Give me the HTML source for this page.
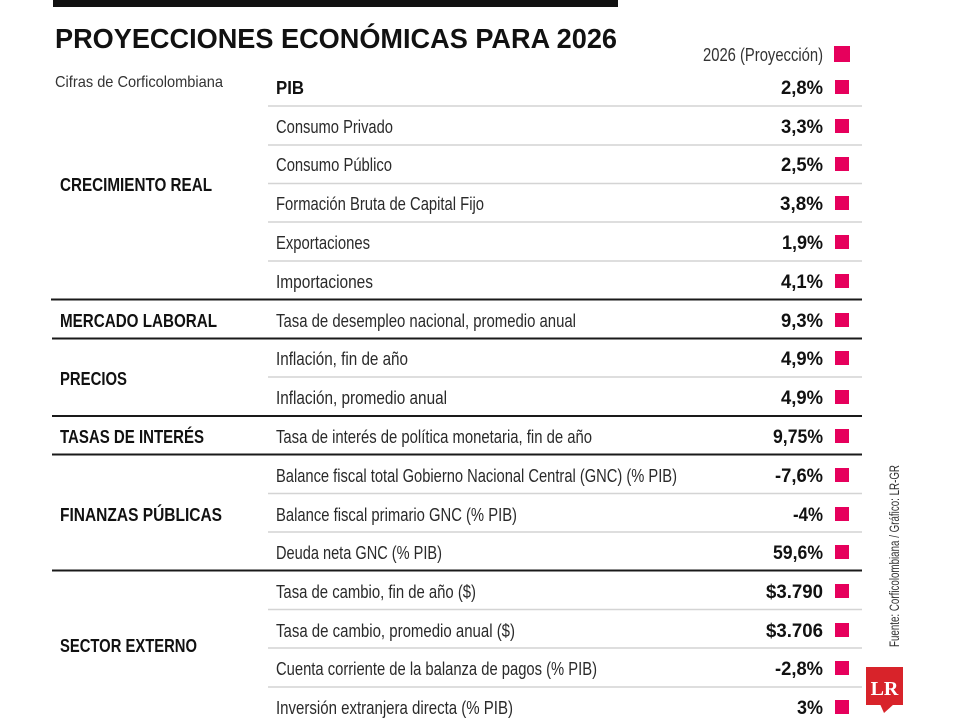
<!DOCTYPE html>
<html><head><meta charset="utf-8"><style>
html,body{margin:0;padding:0;background:#fff;}
svg{display:block;}
text{font-family:"Liberation Sans",sans-serif;}
.t{font-size:18px;fill:#2a2a2a;}
.c{font-size:18px;font-weight:bold;fill:#111;}
.v{font-size:19px;font-weight:bold;fill:#111;}
.lt{stroke:#d4d4d4;stroke-width:1.6;}
.dk{stroke:#1a1a1a;stroke-width:2;}
.sq{fill:#e6005c;}
</style></head><body>
<svg width="960" height="720" viewBox="0 0 960 720" xmlns="http://www.w3.org/2000/svg">
<rect x="0" y="0" width="960" height="720" fill="#fff"/>
<rect x="53" y="0" width="565" height="7" fill="#111"/>
<text x="55" y="48" font-size="28" font-weight="bold" fill="#111" textLength="562" lengthAdjust="spacingAndGlyphs">PROYECCIONES ECONÓMICAS PARA 2026</text>
<text x="55" y="87" font-size="16" fill="#333" textLength="168" lengthAdjust="spacingAndGlyphs">Cifras de Corficolombiana</text>
<text x="703" y="61" font-size="18" fill="#333" textLength="120" lengthAdjust="spacingAndGlyphs">2026 (Proyección)</text>
<rect class="sq" x="834" y="46" width="16" height="16"/>

<!-- lines -->
<line class="lt" x1="268" y1="106" x2="862" y2="106"/>
<line class="lt" x1="268" y1="145" x2="862" y2="145"/>
<line class="lt" x1="268" y1="183.5" x2="862" y2="183.5"/>
<line class="lt" x1="268" y1="222" x2="862" y2="222"/>
<line class="lt" x1="268" y1="261" x2="862" y2="261"/>
<line class="dk" x1="51" y1="299.5" x2="862" y2="299.5"/>
<line class="dk" x1="52" y1="338.5" x2="862" y2="338.5"/>
<line class="lt" x1="268" y1="377" x2="862" y2="377"/>
<line class="dk" x1="52" y1="416" x2="862" y2="416"/>
<line class="dk" x1="52" y1="454.5" x2="862" y2="454.5"/>
<line class="lt" x1="268" y1="493.5" x2="862" y2="493.5"/>
<line class="lt" x1="268" y1="532" x2="862" y2="532"/>
<line class="dk" x1="52" y1="570.5" x2="862" y2="570.5"/>
<line class="lt" x1="268" y1="609.5" x2="862" y2="609.5"/>
<line class="lt" x1="268" y1="648" x2="862" y2="648"/>
<line class="lt" x1="268" y1="687" x2="862" y2="687"/>

<!-- categories -->
<text class="c" x="60" y="191" textLength="152" lengthAdjust="spacingAndGlyphs">CRECIMIENTO REAL</text>
<text class="c" x="60" y="327" textLength="157" lengthAdjust="spacingAndGlyphs">MERCADO LABORAL</text>
<text class="c" x="60" y="385" textLength="67" lengthAdjust="spacingAndGlyphs">PRECIOS</text>
<text class="c" x="60" y="443" textLength="144" lengthAdjust="spacingAndGlyphs">TASAS DE INTERÉS</text>
<text class="c" x="60" y="521" textLength="162" lengthAdjust="spacingAndGlyphs">FINANZAS PÚBLICAS</text>
<text class="c" x="60" y="652" textLength="137" lengthAdjust="spacingAndGlyphs">SECTOR EXTERNO</text>

<!-- labels -->
<text class="c" x="276" y="94" textLength="28" lengthAdjust="spacingAndGlyphs">PIB</text>
<text class="t" x="276" y="133" textLength="117" lengthAdjust="spacingAndGlyphs">Consumo Privado</text>
<text class="t" x="276" y="171" textLength="116" lengthAdjust="spacingAndGlyphs">Consumo Público</text>
<text class="t" x="276" y="210" textLength="208" lengthAdjust="spacingAndGlyphs">Formación Bruta de Capital Fijo</text>
<text class="t" x="276" y="249" textLength="94" lengthAdjust="spacingAndGlyphs">Exportaciones</text>
<text class="t" x="276" y="288" textLength="97" lengthAdjust="spacingAndGlyphs">Importaciones</text>
<text class="t" x="276" y="327" textLength="300" lengthAdjust="spacingAndGlyphs">Tasa de desempleo nacional, promedio anual</text>
<text class="t" x="276" y="365" textLength="132" lengthAdjust="spacingAndGlyphs">Inflación, fin de año</text>
<text class="t" x="276" y="404" textLength="171" lengthAdjust="spacingAndGlyphs">Inflación, promedio anual</text>
<text class="t" x="276" y="443" textLength="316" lengthAdjust="spacingAndGlyphs">Tasa de interés de política monetaria, fin de año</text>
<text class="t" x="276" y="482" textLength="401" lengthAdjust="spacingAndGlyphs">Balance fiscal total Gobierno Nacional Central (GNC) (% PIB)</text>
<text class="t" x="276" y="521" textLength="241" lengthAdjust="spacingAndGlyphs">Balance fiscal primario GNC (% PIB)</text>
<text class="t" x="276" y="559" textLength="166" lengthAdjust="spacingAndGlyphs">Deuda neta GNC (% PIB)</text>
<text class="t" x="276" y="598" textLength="200" lengthAdjust="spacingAndGlyphs">Tasa de cambio, fin de año ($)</text>
<text class="t" x="276" y="637" textLength="239" lengthAdjust="spacingAndGlyphs">Tasa de cambio, promedio anual ($)</text>
<text class="t" x="276" y="675" textLength="321" lengthAdjust="spacingAndGlyphs">Cuenta corriente de la balanza de pagos (% PIB)</text>
<text class="t" x="276" y="714" textLength="237" lengthAdjust="spacingAndGlyphs">Inversión extranjera directa (% PIB)</text>

<!-- values -->
<text class="v" x="781" y="94" textLength="42" lengthAdjust="spacingAndGlyphs">2,8%</text>
<text class="v" x="781" y="133" textLength="42" lengthAdjust="spacingAndGlyphs">3,3%</text>
<text class="v" x="781" y="171" textLength="42" lengthAdjust="spacingAndGlyphs">2,5%</text>
<text class="v" x="780" y="210" textLength="43" lengthAdjust="spacingAndGlyphs">3,8%</text>
<text class="v" x="782" y="249" textLength="41" lengthAdjust="spacingAndGlyphs">1,9%</text>
<text class="v" x="781" y="288" textLength="42" lengthAdjust="spacingAndGlyphs">4,1%</text>
<text class="v" x="781" y="327" textLength="42" lengthAdjust="spacingAndGlyphs">9,3%</text>
<text class="v" x="781" y="365" textLength="42" lengthAdjust="spacingAndGlyphs">4,9%</text>
<text class="v" x="781" y="404" textLength="42" lengthAdjust="spacingAndGlyphs">4,9%</text>
<text class="v" x="773" y="443" textLength="50" lengthAdjust="spacingAndGlyphs">9,75%</text>
<text class="v" x="775" y="482" textLength="48" lengthAdjust="spacingAndGlyphs">-7,6%</text>
<text class="v" x="793" y="521" textLength="30" lengthAdjust="spacingAndGlyphs">-4%</text>
<text class="v" x="773" y="559" textLength="50" lengthAdjust="spacingAndGlyphs">59,6%</text>
<text class="v" x="766" y="598" textLength="57" lengthAdjust="spacingAndGlyphs">$3.790</text>
<text class="v" x="766" y="637" textLength="57" lengthAdjust="spacingAndGlyphs">$3.706</text>
<text class="v" x="775" y="675" textLength="48" lengthAdjust="spacingAndGlyphs">-2,8%</text>
<text class="v" x="797" y="714" textLength="26" lengthAdjust="spacingAndGlyphs">3%</text>

<!-- squares -->
<rect class="sq" x="835" y="80" width="14" height="14"/>
<rect class="sq" x="835" y="119" width="14" height="14"/>
<rect class="sq" x="835" y="157" width="14" height="14"/>
<rect class="sq" x="835" y="196" width="14" height="14"/>
<rect class="sq" x="835" y="235" width="14" height="14"/>
<rect class="sq" x="835" y="274" width="14" height="14"/>
<rect class="sq" x="835" y="313" width="14" height="14"/>
<rect class="sq" x="835" y="351" width="14" height="14"/>
<rect class="sq" x="835" y="390" width="14" height="14"/>
<rect class="sq" x="835" y="429" width="14" height="14"/>
<rect class="sq" x="835" y="468" width="14" height="14"/>
<rect class="sq" x="835" y="507" width="14" height="14"/>
<rect class="sq" x="835" y="545" width="14" height="14"/>
<rect class="sq" x="835" y="584" width="14" height="14"/>
<rect class="sq" x="835" y="623" width="14" height="14"/>
<rect class="sq" x="835" y="661" width="14" height="14"/>
<rect class="sq" x="835" y="700" width="14" height="14"/>

<!-- source -->
<text transform="translate(899,647) rotate(-90)" font-size="13.5" fill="#333" textLength="182" lengthAdjust="spacingAndGlyphs">Fuente: Corficolombiana / Gráfico: LR-GR</text>

<!-- LR logo -->
<rect x="866" y="667" width="37" height="38" fill="#d8232a"/>
<polygon points="880,704 894,704 884,713" fill="#d8232a"/>
<text x="884.5" y="695" style="font-family:'Liberation Serif',serif;font-size:20px;font-weight:bold;fill:#fff;" text-anchor="middle">LR</text>
</svg>
</body></html>
